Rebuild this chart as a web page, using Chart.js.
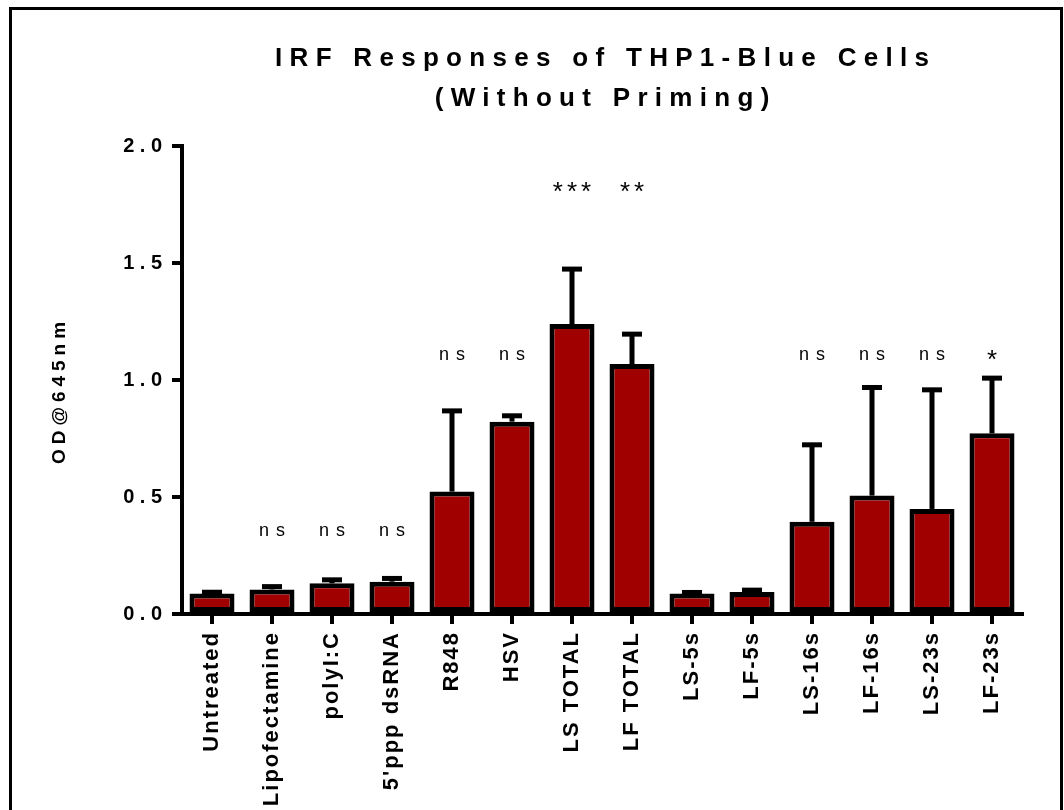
<!DOCTYPE html>
<html>
<head>
<meta charset="utf-8">
<title>IRF Responses of THP1-Blue Cells</title>
<script src="https://cdn.jsdelivr.net/npm/chart.js@4.4.0/dist/chart.umd.min.js"></script>
<style>
  html, body { margin: 0; padding: 0; background: #ffffff; }
  canvas { display: block; }
</style>
</head>
<body>
<canvas id="chart" width="1064" height="810"></canvas>
<script>
// Treatments, mean OD@645nm and SD for each group
const categories = ['Untreated', 'Lipofectamine', 'polyI:C', "5'ppp dsRNA", 'R848', 'HSV',
  'LS TOTAL', 'LF TOTAL', 'LS-5s', 'LF-5s', 'LS-16s', 'LF-16s', 'LS-23s', 'LF-23s'];
const meanOD = [0.088, 0.105, 0.131, 0.138, 0.523, 0.822, 1.239, 1.068, 0.088, 0.094, 0.394, 0.506, 0.449, 0.772];
const sdOD = [0.005, 0.012, 0.015, 0.014, 0.345, 0.025, 0.235, 0.128, 0.004, 0.008, 0.329, 0.462, 0.509, 0.236];

// Statistical annotations and the OD level where each one is written
const significance = ['', 'ns', 'ns', 'ns', 'ns', 'ns', '***', '**', '', '', 'ns', 'ns', 'ns', '*'];
const significanceLevel = [0, 0.353, 0.353, 0.353, 1.107, 1.107, 1.798, 1.798, 0, 0, 1.107, 1.107, 1.107, 1.08];

const yTicks = [0, 0.5, 1.0, 1.5, 2.0];
const titleLines = ['IRF Responses of THP1-Blue Cells', '(Without Priming)'];
const yTitle = 'OD@645nm';

const FONT = "'Liberation Sans', Arial, Helvetica, sans-serif";
const BAR_RED = '#a00000';

const spacedText = {
  id: 'spacedText',
  beforeDraw(chart) {
    const ctx = chart.ctx;
    const area = chart.chartArea;
    ctx.save();
    ctx.fillStyle = '#ffffff';
    ctx.fillRect(0, 0, chart.width, chart.height);

    // frame
    ctx.strokeStyle = '#000000';
    ctx.lineWidth = 3;
    ctx.beginPath();
    ctx.moveTo(10.5, chart.height + 10);
    ctx.lineTo(10.5, 8.5);
    ctx.lineTo(1061.5, 8.5);
    ctx.lineTo(1061.5, chart.height + 10);
    ctx.stroke();

    // title
    ctx.fillStyle = '#000000';
    ctx.font = 'bold 26px ' + FONT;
    ctx.letterSpacing = '7.3px';
    ctx.textAlign = 'center';
    ctx.textBaseline = 'alphabetic';
    const cx = (area.left + area.right) / 2 + 3.65;
    ctx.fillText(titleLines[0], cx, 66);
    ctx.fillText(titleLines[1], cx, 106);

    // y axis title
    ctx.translate(60, 393);
    ctx.rotate(-Math.PI / 2);
    ctx.font = 'bold 19px ' + FONT;
    ctx.letterSpacing = '5px';
    ctx.textBaseline = 'middle';
    ctx.fillText(yTitle, 2.5, 0);
    ctx.restore();

    // spacing used by the y tick labels (drawn before the bars)
    ctx.letterSpacing = '5.5px';
  },
  afterDatasetsDraw(chart) {
    const ctx = chart.ctx;
    const meta = chart.getDatasetMeta(0);
    const y = chart.scales.y;
    ctx.save();
    ctx.fillStyle = '#000000';
    // upper SD error bars
    meta.data.forEach((bar, i) => {
      const top = y.getPixelForValue(meanOD[i]);
      const cap = y.getPixelForValue(meanOD[i] + sdOD[i]);
      ctx.fillRect(bar.x - 2.5, cap, 5, top - cap);
      ctx.fillRect(bar.x - 10, cap - 2.5, 20, 5);
    });
    // significance marks: "ns" in regular text, asterisks set larger
    ctx.textAlign = 'center';
    ctx.textBaseline = 'middle';
    significance.forEach((s, i) => {
      if (!s) return;
      const stars = s.startsWith('*');
      ctx.font = (stars ? '26px ' : '18px ') + FONT;
      ctx.letterSpacing = stars ? '4px' : '7px';
      const shift = stars ? 2 : 3.5;
      ctx.fillText(s, meta.data[i].x + shift, y.getPixelForValue(significanceLevel[i]));
    });
    ctx.restore();

    // spacing used by the category labels (drawn after the bars)
    ctx.letterSpacing = '2px';
  }
};

new Chart(document.getElementById('chart'), {
  type: 'bar',
  data: {
    labels: categories,
    datasets: [{
      data: meanOD,
      backgroundColor: BAR_RED,
      borderColor: '#000000',
      borderWidth: 5,
      borderSkipped: false,
      barPercentage: 0.75,
      categoryPercentage: 1.0
    }]
  },
  options: {
    responsive: false,
    devicePixelRatio: 1,
    animation: false,
    layout: { padding: { top: 146, right: 42, left: 0, bottom: 0 } },
    plugins: {
      legend: { display: false },
      title: { display: false },
      tooltip: { enabled: false }
    },
    scales: {
      x: {
        offset: true,
        afterFit(scale) { scale.height = 196; },
        grid: {
          offset: false,
          drawOnChartArea: false,
          drawTicks: true,
          tickLength: 10,
          lineWidth: 4,
          color: '#000000'
        },
        border: { display: true, color: '#000000', width: 4 },
        ticks: {
          z: 1,
          autoSkip: false,
          minRotation: 90,
          maxRotation: 90,
          padding: 7,
          color: '#000000',
          font: { family: FONT, size: 22, weight: 'bold' }
        }
      },
      y: {
        min: 0,
        max: 2,
        afterFit(scale) { scale.width = 182; },
        afterBuildTicks(scale) { scale.ticks = yTicks.map(v => ({ value: v })); },
        grid: {
          drawOnChartArea: false,
          drawTicks: true,
          tickLength: 10,
          lineWidth: 4,
          color: '#000000'
        },
        border: { display: true, color: '#000000', width: 4 },
        ticks: {
          z: 0,
          padding: 4.5,
          color: '#000000',
          font: { family: FONT, size: 20, weight: 'bold' },
          callback: v => Number(v).toFixed(1)
        }
      }
    }
  },
  plugins: [spacedText]
});
</script>
</body>
</html>
